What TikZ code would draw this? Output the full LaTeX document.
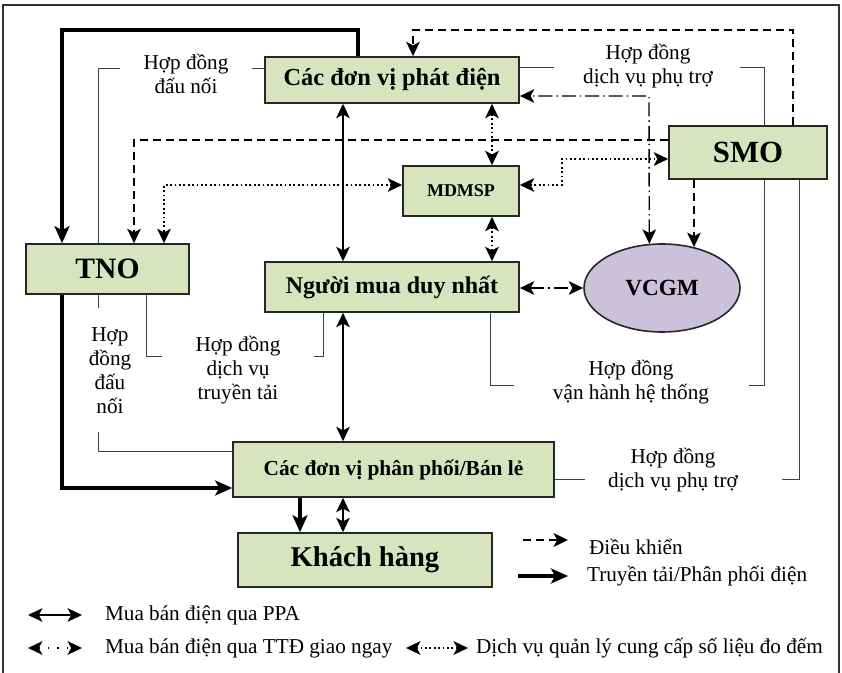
\documentclass[tikz,border=0pt]{standalone}
\usepackage{fontspec}
\setmainfont{Liberation Serif}
\usetikzlibrary{arrows.meta,shapes.geometric,calc}
\definecolor{boxgreen}{HTML}{D7E4BD}
\definecolor{ovalpurple}{HTML}{CCC1DA}
\tikzset{
  >={Stealth[length=7.2pt,width=6.8pt,inset=1.8pt]},
  unitbox/.style={draw=black!85,fill=boxgreen,line width=0.8pt,inner sep=0pt,font=\bfseries},
  unitoval/.style={ellipse,draw=black!85,fill=ovalpurple,line width=0.8pt,inner sep=0pt,font=\bfseries},
  contract/.style={line width=0.5pt,draw=black!75},
  ctext/.style={align=center,font=\fontsize{10.6}{12}\selectfont},
  ltext/.style={anchor=west,font=\fontsize{10.6}{12}\selectfont},
  ppa/.style={line width=0.7pt,<->},
  power/.style={line width=1.8pt,-{Stealth[length=8.5pt,width=7.5pt,inset=2pt]}},
  control/.style={line width=0.9pt,dash pattern=on 4pt off 2.5pt,->},
  meter/.style={line width=0.9pt,dash pattern=on 0.9pt off 1.3pt,<->},
  spot/.style={line width=0.7pt,dash pattern=on 7pt off 2pt on 0.7pt off 2pt,<->}
}

\begin{document}
\begin{tikzpicture}[x=0.5pt,y=-0.5pt]
\useasboundingbox (0,0) rectangle (842,673);
\draw[line width=0.6pt,black!80] (3,673) -- (3,5) -- (839,5) -- (839,673);

% Market participants
\node[unitbox,minimum width=127pt,minimum height=23pt,font=\bfseries\fontsize{12.2}{14}\selectfont] (gen) at (392,80) {Các đơn vị phát điện};
\node[unitbox,minimum width=79pt,minimum height=26.5pt,font=\bfseries\fontsize{15.4}{17}\selectfont] (smo) at (748,152.5) {SMO};
\node[unitbox,minimum width=58pt,minimum height=25pt,font=\bfseries\fontsize{9}{11}\selectfont] (mdmsp) at (461,191) {MDMSP};
\node[unitbox,minimum width=81.5pt,minimum height=25pt,font=\bfseries\fontsize{14.8}{17}\selectfont] (tno) at (107.5,269) {TNO};
\node[unitbox,minimum width=127pt,minimum height=25pt,font=\bfseries\fontsize{12}{14}\selectfont] (nm) at (392,287) {Người mua duy nhất};
\node[unitoval,minimum width=78pt,minimum height=44pt,font=\bfseries\fontsize{11.6}{14}\selectfont] (vcgm) at (662,288) {VCGM};
\node[unitbox,minimum width=160.5pt,minimum height=27.5pt,font=\bfseries\fontsize{10.7}{13}\selectfont] (pp) at (393.5,469.5) {Các đơn vị phân phối/Bán lẻ};
\node[unitbox,minimum width=127pt,minimum height=27pt,font=\bfseries\fontsize{14.3}{17}\selectfont] (kh) at (365,560) {Khách hàng};

% Contract labels
\node[ctext] (c1) at (186,74) {Hợp đồng\\đấu nối};
\node[ctext] (c2) at (648,66) {Hợp đồng\\dịch vụ phụ trợ};
\node[ctext] (c3) at (110,371) {Hợp\\đồng\\đấu\\nối};
\node[ctext] (c4) at (238,370) {Hợp đồng\\dịch vụ\\truyền tải};
\node[ctext] (c5) at (631,382) {Hợp đồng\\vận hành hệ thống};
\node[ctext] (c6) at (673,470) {Hợp đồng\\dịch vụ phụ trợ};

% Bends and lanes
\coordinate (tk1) at (358,30);
\coordinate (tk2) at (62,30);
\coordinate (tk3) at (62,488);
\coordinate (tk4) at (300,515);
\coordinate (pa) at (343,0);
\coordinate (mx) at (492,0);
\coordinate (dm1) at (562,185);
\coordinate (dm2) at (562,159);
\coordinate (dm3) at (164,185);
\coordinate (dc1) at (134,140);
\coordinate (dc2) at (793,30);
\coordinate (dc3) at (413,30);
\coordinate (dd1) at (649,96);

% Power flow
\draw[power] (gen.north -| tk1) -- (tk1) -- (tk2) -- (tno.north -| tk2);
\draw[power] (tno.south -| tk3) -- (tk3) -- (pp.west |- tk3);
\draw[power] (pp.south -| tk4) -- (kh.north -| tk4);

% Bilateral PPA trading
\draw[ppa] (gen.south -| pa) -- (nm.north -| pa);
\draw[ppa] (nm.south -| pa) -- (pp.north -| pa);
\draw[ppa] (pp.south -| pa) -- (kh.north -| pa);

% Metering data
\draw[meter] (gen.south -| mx) -- (mdmsp.north -| mx);
\draw[meter] (mdmsp.south -| mx) -- (nm.north -| mx);
\draw[meter] (mdmsp.east |- dm1) -- (dm1) -- (dm2) -- (smo.west |- dm2);
\draw[meter] (mdmsp.west |- dm3) -- (dm3) -- (tno.north -| dm3);

% Dispatch control
\draw[control] (smo.west |- dc1) -- (dc1) -- (tno.north -| dc1);
\draw[control] (smo.north -| dc2) -- (dc2) -- (dc3) -- (gen.north -| dc3);
\draw[control] (smo.south -| vcgm.52.5) -- (vcgm.52.5);

% Spot market
\draw[spot] (vcgm.106.7) -- (dd1) -- (gen.east |- dd1);
\draw[spot] (nm.east |- vcgm.west) -- (vcgm.west);

% Contract brackets
\coordinate (k1a) at (252,69);
\coordinate (k1b) at (120,69);
\coordinate (k1c) at (98,69);
\draw[contract] (gen.west |- k1a) -- (k1a);
\draw[contract] (k1b) -- (k1c) -- (tno.north -| k1c);
\coordinate (k2a) at (554,68);
\coordinate (k2b) at (740,68);
\coordinate (k2c) at (764,68);
\draw[contract] (gen.east |- k2a) -- (k2a);
\draw[contract] (k2b) -- (k2c) -- (smo.north -| k2c);
\coordinate (k3a) at (98,308);
\coordinate (k3b) at (98,432);
\coordinate (k3c) at (98,452);
\draw[contract] (tno.south -| k3a) -- (k3a);
\draw[contract] (k3b) -- (k3c) -- (pp.west |- k3c);
\coordinate (k4a) at (146,357);
\coordinate (k4b) at (162,357);
\coordinate (k4c) at (314,357);
\coordinate (k4d) at (323,357);
\draw[contract] (tno.south -| k4a) -- (k4a) -- (k4b);
\draw[contract] (k4c) -- (k4d) -- (nm.south -| k4d);
\coordinate (k5a) at (490,386);
\coordinate (k5b) at (514,386);
\coordinate (k5c) at (749,386);
\coordinate (k5d) at (764,386);
\draw[contract] (nm.south -| k5a) -- (k5a) -- (k5b);
\draw[contract] (k5c) -- (k5d) -- (smo.south -| k5d);
\coordinate (k6a) at (585,480);
\coordinate (k6b) at (782,480);
\coordinate (k6c) at (799,480);
\draw[contract] (pp.east |- k6a) -- (k6a);
\draw[contract] (k6b) -- (k6c) -- (smo.south -| k6c);

% Legend
\coordinate (la1) at (28,615);
\coordinate (la2) at (82,615);
\coordinate (lb1) at (28,648);
\coordinate (lb2) at (82,648);
\coordinate (lc1) at (406,648);
\coordinate (lc2) at (468,648);
\coordinate (ld1) at (523,540);
\coordinate (ld2) at (568,540);
\coordinate (le1) at (518,576);
\coordinate (le2) at (568,576);
\draw[ppa] (la1) -- (la2);
\draw[spot,dash pattern=on 0.7pt off 4pt on 0.7pt off 4pt] (lb1) -- (lb2);
\draw[meter] (lc1) -- (lc2);
\draw[control] (ld1) -- (ld2);
\draw[power] (le1) -- (le2);
\node[ltext] (lta) at (98,615) {Mua bán điện qua PPA};
\node[ltext] (ltb) at (98,648) {Mua bán điện qua TTĐ giao ngay};
\node[ltext] (ltc) at (469,648) {Dịch vụ quản lý cung cấp số liệu đo đếm};
\node[ltext] (ltd) at (582,547) {Điều khiển};
\node[ltext] (lte) at (580,576) {Truyền tải/Phân phối điện};

\end{tikzpicture}
\end{document}
